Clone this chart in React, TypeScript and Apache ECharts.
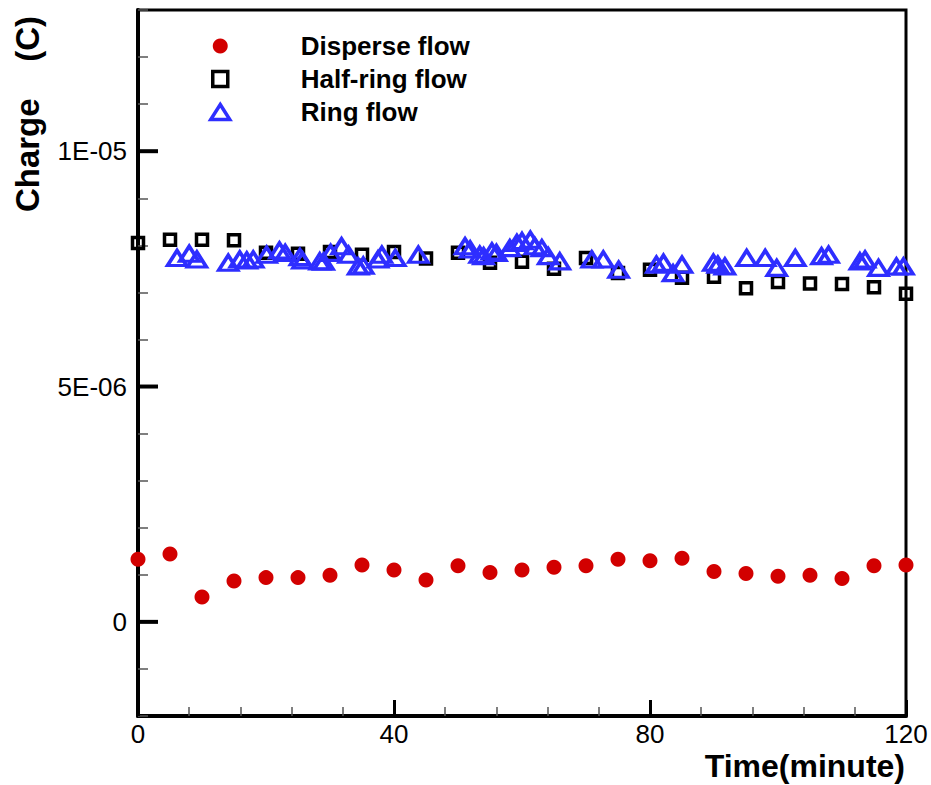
import React, { useEffect, useRef } from "react";
import * as echarts from "echarts";

// ---- data ----
const timeDisperse = [0, 5, 10, 15, 20, 25, 30, 35, 40, 45, 50, 55, 60, 65, 70, 75, 80, 85, 90, 95, 100, 105, 110, 115, 120];
const chargeDisperse = [
  1.33e-6, 1.44e-6, 0.53e-6, 0.87e-6, 0.94e-6, 0.94e-6, 0.99e-6, 1.21e-6, 1.1e-6, 0.89e-6, 1.19e-6, 1.05e-6, 1.1e-6,
  1.16e-6, 1.19e-6, 1.33e-6, 1.3e-6, 1.35e-6, 1.07e-6, 1.03e-6, 0.97e-6, 0.99e-6, 0.92e-6, 1.19e-6, 1.21e-6,
];

const timeHalfRing = [0, 5, 10, 15, 20, 25, 30, 35, 40, 45, 50, 55, 60, 65, 70, 75, 80, 85, 90, 95, 100, 105, 110, 115, 120];
const chargeHalfRing = [
  8.05e-6, 8.12e-6, 8.12e-6, 8.11e-6, 7.84e-6, 7.82e-6, 7.86e-6, 7.8e-6, 7.86e-6, 7.72e-6, 7.84e-6, 7.63e-6, 7.65e-6,
  7.5e-6, 7.73e-6, 7.41e-6, 7.48e-6, 7.31e-6, 7.33e-6, 7.09e-6, 7.22e-6, 7.19e-6, 7.18e-6, 7.11e-6, 6.97e-6,
];

const timeRing = [
  6.1, 8.0, 9.2, 14.1, 15.9, 17.0, 18.0, 20.1, 22.1, 23.0, 25.3, 25.7, 28.4, 29.0, 30.1, 31.8, 32.9, 34.4, 35.2, 37.5,
  38.1, 40.2, 43.8, 51.1, 51.9, 53.4, 54.0, 55.3, 56.0, 58.1, 59.2, 60.0, 61.3, 62.0, 63.1, 64.1, 65.9, 70.9, 72.7,
  75.1, 81.0, 82.1, 83.6, 85.0, 89.9, 90.6, 91.7, 95.1, 98.0, 99.8, 102.7, 106.8, 107.9, 112.8, 113.6, 115.7, 118.5,
  119.6,
];
const chargeRing = [
  7.73e-6, 7.82e-6, 7.7e-6, 7.63e-6, 7.7e-6, 7.68e-6, 7.7e-6, 7.8e-6, 7.89e-6, 7.84e-6, 7.75e-6, 7.68e-6, 7.66e-6,
  7.65e-6, 7.84e-6, 7.98e-6, 7.8e-6, 7.55e-6, 7.57e-6, 7.7e-6, 7.8e-6, 7.73e-6, 7.8e-6, 7.98e-6, 7.91e-6, 7.8e-6,
  7.77e-6, 7.87e-6, 7.84e-6, 7.94e-6, 8.05e-6, 8.09e-6, 8.12e-6, 7.98e-6, 7.94e-6, 7.77e-6, 7.66e-6, 7.7e-6, 7.7e-6,
  7.48e-6, 7.59e-6, 7.63e-6, 7.41e-6, 7.59e-6, 7.63e-6, 7.59e-6, 7.55e-6, 7.73e-6, 7.73e-6, 7.52e-6, 7.73e-6, 7.77e-6,
  7.8e-6, 7.66e-6, 7.7e-6, 7.52e-6, 7.55e-6, 7.55e-6,
];

const seriesNames = ["Disperse flow", "Half-ring flow", "Ring flow"];
const yMajorTicks = [0, 5e-6, 1e-5];
const yTickLabels = ["0", "5E-06", "1E-05"];
const xTitle = "Time(minute)";
const yTitle = "Charge    (C)";

const FONT = "'Liberation Sans', Arial, sans-serif";
const RED = "#D20000";
const BLUE = "#2E2EFF";
const X_MIN = 0;
const X_MAX = 120;
const Y_MIN = -2e-6;
const Y_MAX = 1.3e-5;

const zip = (xs: number[], ys: number[]) => xs.map((x, i) => [x, ys[i]]);

export default function App() {
  const ref = useRef<HTMLDivElement>(null);
  useEffect(() => {
    if (!ref.current) return;
    const chart = echarts.init(ref.current, undefined, { renderer: "svg" });
    const labelFor = (v: number) => {
      const i = yMajorTicks.findIndex((t) => Math.abs(t - v) < 1e-12);
      return i >= 0 ? yTickLabels[i] : "";
    };
    chart.setOption({
      animation: false,
      backgroundColor: "#fff",
      grid: {
        left: 138,
        right: 25,
        top: 10,
        bottom: 69,
        show: true,
        borderColor: "#000",
        borderWidth: 3,
        backgroundColor: "transparent",
      },
      legend: {
        orient: "vertical",
        left: 204,
        top: 28,
        itemWidth: 19,
        itemHeight: 15,
        itemGap: 7,
        textStyle: {
          fontSize: 26,
          fontWeight: "bold",
          fontFamily: FONT,
          color: "#000",
          padding: [0, 0, 0, 66],
        },
        data: [
          { name: seriesNames[0], icon: "circle", itemStyle: { color: RED, borderWidth: 0 } },
          {
            name: seriesNames[1],
            icon: "path://M0 0H10V10H0Z",
            itemStyle: { color: "rgba(255,255,255,0)", borderColor: "#000", borderWidth: 3.5 },
          },
          {
            name: seriesNames[2],
            icon: "triangle",
            itemStyle: { color: "rgba(255,255,255,0)", borderColor: BLUE, borderWidth: 3.5 },
          },
        ],
      },
      xAxis: {
        type: "value",
        min: X_MIN,
        max: X_MAX,
        interval: 40,
        axisLine: { show: true, onZero: false, lineStyle: { color: "#000", width: 4 } },
        axisTick: { show: true, inside: true, length: 16, lineStyle: { color: "#000", width: 3 } },
        minorTick: { show: true, splitNumber: 5, length: 9, lineStyle: { color: "#555", width: 1.5 } },
        axisLabel: { color: "#000", fontSize: 26, fontFamily: FONT, margin: 5 },
        splitLine: { show: false },
        minorSplitLine: { show: false },
      },
      yAxis: {
        type: "value",
        min: Y_MIN,
        max: Y_MAX,
        interval: 1e-6,
        axisLine: { show: true, onZero: false, lineStyle: { color: "#000", width: 4 } },
        axisTick: { show: true, inside: true, length: 10, lineStyle: { color: "#555", width: 1.5 } },
        axisLabel: {
          color: "#000",
          fontSize: 26,
          fontFamily: FONT,
          margin: 11,
          customValues: yMajorTicks,
          formatter: (v: number) => labelFor(v),
        },
        splitLine: { show: false },
      },
      series: [
        {
          name: seriesNames[0],
          type: "scatter",
          symbol: "circle",
          symbolSize: 15,
          itemStyle: { color: RED, opacity: 1 },
          data: zip(timeDisperse, chargeDisperse),
        },
        {
          name: seriesNames[1],
          type: "scatter",
          symbol: "rect",
          symbolSize: 11,
          itemStyle: { color: "rgba(255,255,255,0)", borderColor: "#000", borderWidth: 3.5, opacity: 1 },
          data: zip(timeHalfRing, chargeHalfRing),
        },
        {
          name: seriesNames[2],
          type: "scatter",
          symbol: "triangle",
          symbolSize: [19, 15],
          itemStyle: { color: "rgba(255,255,255,0)", borderColor: BLUE, borderWidth: 3.5, opacity: 1 },
          data: zip(timeRing, chargeRing),
        },
      ],
    });

    // major y ticks: positioned through the chart's own scales
    const x0 = chart.convertToPixel({ xAxisIndex: 0 }, X_MIN) as number;
    const majorTickLines = yMajorTicks.map((v) => {
      const py = chart.convertToPixel({ yAxisIndex: 0 }, v) as number;
      return {
        type: "line",
        z: 100,
        zlevel: 0,
        silent: true,
        shape: { x1: x0, y1: py, x2: x0 + 20, y2: py },
        style: { stroke: "#000000", lineWidth: 4 },
      };
    });

    chart.setOption({
      graphic: [
        ...majorTickLines,
        {
          type: "text",
          x: 27,
          y: 114,
          rotation: Math.PI / 2,
          style: {
            text: yTitle,
            fill: "#000",
            font: `bold 33px ${FONT}`,
            align: "center",
            verticalAlign: "middle",
          },
        },
        {
          type: "text",
          x: 905,
          y: 766,
          style: {
            text: xTitle,
            fill: "#000",
            font: `bold 32px ${FONT}`,
            align: "right",
            verticalAlign: "middle",
          },
        },
      ],
    });
    return () => chart.dispose();
  }, []);
  return <div ref={ref} style={{ position: "absolute", left: 0, top: 0, width: 931, height: 785 }} />;
}
